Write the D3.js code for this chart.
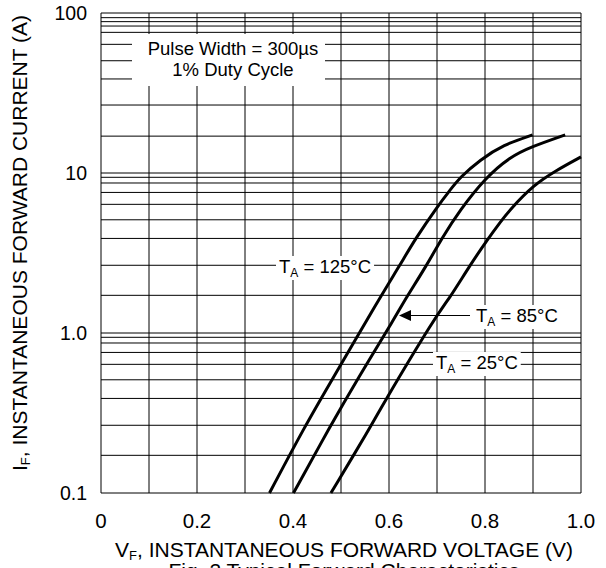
<!DOCTYPE html>
<html>
<head>
<meta charset="utf-8">
<script src="https://cdn.jsdelivr.net/npm/d3@7"></script>
<style>
  html, body { margin: 0; padding: 0; background: #fff; }
  svg { display: block; }
  text { font-family: "Liberation Sans", Arial, sans-serif; fill: #000; }
</style>
</head>
<body>
<svg id="chart"></svg>
<script>
// Forward voltage (V) / forward current (A)
const vf125 = [0.351, 0.426, 0.481, 0.578, 0.623, 0.654, 0.703, 0.727, 0.748, 0.79, 0.838, 0.899];
const if125 = [0.1, 0.266, 0.508, 1.61, 2.66, 3.85, 6.31, 7.8, 9.4, 12.1, 15.0, 17.3];

const vf85 = [0.401, 0.479, 0.533, 0.616, 0.633, 0.679, 0.710, 0.748, 0.8, 0.852, 0.897, 0.967];
const if85 = [0.1, 0.266, 0.508, 1.30, 1.61, 2.66, 3.91, 5.87, 9.26, 12.6, 14.6, 17.3];

const vf25 = [0.479, 0.564, 0.581, 0.699, 0.724, 0.769, 0.807, 0.831, 0.852, 0.901, 0.949, 1.0];
const if25 = [0.1, 0.266, 0.333, 1.30, 1.61, 2.66, 3.91, 4.9, 5.9, 8.41, 10.4, 12.6];

const xTicks = [0, 0.2, 0.4, 0.6, 0.8, 1.0];
const xTickLabels = ['0', '0.2', '0.4', '0.6', '0.8', '1.0'];
const xGrid = [0, 0.1, 0.2, 0.3, 0.4, 0.5, 0.6, 0.7, 0.8, 0.9, 1.0];

const yTicks = [100, 10, 1, 0.1];
const yTickLabels = ['100', '10', '1.0', '0.1'];
// grid lines as drawn on the original sheet (not evenly log spaced)
const yGrid = [100, 93.5, 88.3, 82.9, 75.7, 63.7, 50.3, 38.7, 26.6, 17.0,
  10, 9.4, 8.66, 7.56, 6.37, 5.1, 3.9, 2.65, 1.72,
  1, 0.94, 0.866, 0.756, 0.637, 0.51, 0.39, 0.265, 0.172, 0.1];

const series = [
  { name: '125', v: vf125, i: if125 },
  { name: '85', v: vf85, i: if85 },
  { name: '25', v: vf25, i: if25 },
];

const width = 606;
const height = 568;
const margin = { top: 13, right: 25, bottom: 75, left: 101 };

const svg = d3.select('#chart')
  .attr('width', width)
  .attr('height', height)
  .attr('viewBox', `0 0 ${width} ${height}`);

const x = d3.scaleLinear()
  .domain([0, 1])
  .range([margin.left, width - margin.right]);

const y = d3.scaleLog()
  .domain([0.1, 100])
  .range([height - margin.bottom, margin.top]);

// Grid
const grid = svg.append('g').attr('stroke', '#000').attr('stroke-width', 1);

grid.selectAll('.vg')
  .data(xGrid)
  .join('line')
  .attr('x1', d => x(d))
  .attr('x2', d => x(d))
  .attr('y1', y(0.1))
  .attr('y2', y(100));

grid.selectAll('.hg')
  .data(yGrid)
  .join('line')
  .attr('x1', x(0))
  .attr('x2', x(1))
  .attr('y1', d => y(d))
  .attr('y2', d => y(d));

// white note box over the grid
svg.append('rect')
  .attr('x', 132).attr('y', 34)
  .attr('width', 193).attr('height', 52)
  .attr('fill', '#fff');

const note = svg.append('text')
  .attr('text-anchor', 'middle')
  .attr('font-size', 18.5);
note.append('tspan').attr('x', 233).attr('y', 55).text('Pulse Width = 300µs');
note.append('tspan').attr('x', 233).attr('y', 76).text('1% Duty Cycle');

// Curves
const line = d3.line()
  .x(d => x(d[0]))
  .y(d => y(d[1]))
  .curve(d3.curveBasis);

svg.selectAll('.curve')
  .data(series)
  .join('path')
  .attr('class', 'curve')
  .attr('d', s => line(s.v.map((v, k) => [v, s.i[k]])))
  .attr('fill', 'none')
  .attr('stroke', '#000')
  .attr('stroke-width', 3);

// Temperature labels (white background behind text)
function tempLabel(tx, ty, value) {
  const g = svg.append('g');
  const bg = g.append('rect').attr('fill', '#fff');
  const t = g.append('text')
    .attr('x', tx).attr('y', ty)
    .attr('font-size', 18.5);
  t.append('tspan').text('T');
  t.append('tspan').attr('font-size', 12).attr('dy', 4).text('A');
  t.append('tspan').attr('dy', -4).text(` = ${value}°C`);
  const b = t.node().getBBox();
  bg.attr('x', b.x - 3).attr('y', b.y).attr('width', b.width + 6).attr('height', b.height);
  return b;
}

tempLabel(279, 273, 125);
tempLabel(476, 322, 85);
tempLabel(436, 369, 25);

// arrow to the 85°C curve
svg.append('line')
  .attr('x1', 470).attr('x2', 405)
  .attr('y1', 315.5).attr('y2', 315.5)
  .attr('stroke', '#000').attr('stroke-width', 1.2);
svg.append('path')
  .attr('d', 'M399,315.5L411,310L411,321Z')
  .attr('fill', '#000');

// Axis tick labels
svg.selectAll('.xt')
  .data(xTicks)
  .join('text')
  .attr('x', d => x(d))
  .attr('y', 528)
  .attr('text-anchor', 'middle')
  .attr('font-size', 20.5)
  .text((d, k) => xTickLabels[k]);

svg.selectAll('.yt')
  .data(yTicks)
  .join('text')
  .attr('x', 87)
  .attr('y', d => y(d) + 7)
  .attr('text-anchor', 'end')
  .attr('font-size', 19.5)
  .text((d, k) => yTickLabels[k]);

// Axis titles
const xt = svg.append('text')
  .attr('x', 344).attr('y', 557)
  .attr('text-anchor', 'middle')
  .attr('font-size', 21);
xt.append('tspan').text('V');
xt.append('tspan').attr('font-size', 13).attr('dy', 3).text('F');
xt.append('tspan').attr('dy', -3).text(', INSTANTANEOUS FORWARD VOLTAGE (V)');

svg.append('text')
  .attr('x', 344).attr('y', 578)
  .attr('text-anchor', 'middle')
  .attr('font-size', 21)
  .text('Fig. 2 Typical Forward Characteristics');

const yt = svg.append('text')
  .attr('transform', 'translate(27,243) rotate(-90)')
  .attr('text-anchor', 'middle')
  .attr('font-size', 21);
yt.append('tspan').text('I');
yt.append('tspan').attr('font-size', 13).attr('dy', 3).text('F');
yt.append('tspan').attr('dy', -3).text(', INSTANTANEOUS FORWARD CURRENT (A)');
</script>
</body>
</html>
